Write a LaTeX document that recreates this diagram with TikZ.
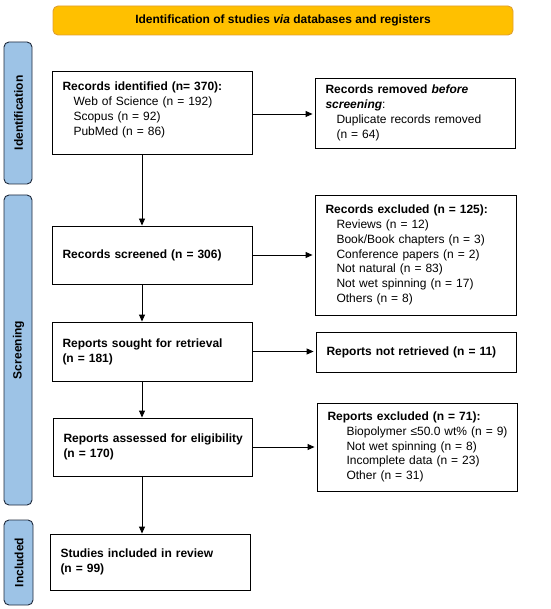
\documentclass[tikz,border=0pt]{standalone}
\usepackage{fontspec}
\setmainfont{Liberation Sans}
\usetikzlibrary{arrows.meta}

\definecolor{headorange}{HTML}{FFC000}
\definecolor{headline}{HTML}{E0A030}
\definecolor{sideblue}{HTML}{9DC3E6}
\definecolor{sideline}{HTML}{1F2A3C}

\newcommand{\sub}{\hspace*{11pt}}
\newcommand{\subb}{\hspace*{19pt}}

\begin{document}
\begin{tikzpicture}[x=1pt,y=-1pt,
    box/.style={draw,line width=0.9pt,inner xsep=10.5pt,inner ysep=0pt,
      align=left,font=\fontsize{12}{14.8}\selectfont},
    sidebar/.style={draw=sideline,fill=sideblue,line width=0.9pt,rounded corners=5pt},
    sidelabel/.style={rotate=90,font=\fontsize{12}{14}\selectfont\bfseries},
    flow/.style={-{Triangle[length=7pt,width=6pt]},line width=0.9pt}]

    \useasboundingbox (0,0) rectangle (550,609);

    % header
    \node[draw=headline,fill=headorange,line width=0.9pt,rounded corners=5pt,
      minimum width=460pt,minimum height=29pt,font=\fontsize{12}{14}\selectfont\bfseries]
      (head) at (283,20.5) {Identification of studies \textit{via} databases and registers};

    % side bars
    \draw[sidebar] (4,42) rectangle (32,184);
    \node[sidelabel] (lid) at (18.5,113) {Identification};
    \draw[sidebar] (4,195) rectangle (32,505);
    \node[sidelabel] (lscr) at (18.5,350) {Screening};
    \draw[sidebar] (4,520) rectangle (33,605);
    \node[sidelabel] (linc) at (19,562.5) {Included};

    % main column
    \node[box,text width=179pt,minimum height=83pt] (ident) at (152,112.5)
      {\textbf{Records identified (n= 370):}\\ \sub Web of Science (n = 192)\\ \sub Scopus (n = 92)\\ \sub PubMed (n = 86)\\[-7pt]\mbox{}};
    \node[box,text width=179pt,minimum height=58pt] (screened) at (152,255)
      {\textbf{Records screened (n = 306)}};
    \node[box,text width=179pt,minimum height=59pt] (sought) at (152,351.5)
      {\textbf{Reports sought for retrieval}\\ \textbf{(n = 181)}};
    \node[box,text width=178pt,minimum height=58pt] (assessed) at (152.5,447)
      {\mbox{\textbf{Reports assessed for eligibility}}\\ \textbf{(n = 170)}};
    \node[box,text width=179pt,minimum height=56pt] (included) at (150,562)
      {\textbf{Studies included in review}\\ \textbf{(n = 99)}};

    % right column
    \node[box,text width=179pt,minimum height=70pt] (removed) at (415,113)
      {\textbf{Records removed \textit{before}}\\ \textbf{\textit{screening}}:\\ \sub Duplicate records removed\\ \sub (n = 64)};
    \node[box,text width=180pt,minimum height=120pt] (excluded) at (415.5,255)
      {\textbf{Records excluded (n = 125):}\\ \sub Reviews (n = 12)\\ \sub Book/Book chapters (n = 3)\\ \sub Conference papers (n = 2)\\ \sub Not natural (n = 83)\\ \sub Not wet spinning (n = 17)\\ \sub Others (n = 8)};
    \node[box,text width=179pt,minimum height=40pt] (notret) at (416,352)
      {\textbf{Reports not retrieved (n = 11)}};
    \node[box,text width=179pt,minimum height=88pt] (repexcl) at (417,447)
      {\textbf{Reports excluded (n = 71):}\\ \subb\mbox{Biopolymer ≤50.0 wt\% (n = 9)}\\ \subb Not wet spinning (n = 8)\\ \subb Incomplete data (n = 23)\\ \subb Other (n = 31)};

    % arrows
    \coordinate (axis) at (142,0);
    \draw[flow] (ident.south -| axis) -- (screened.north -| axis);
    \draw[flow] (screened.south -| axis) -- (sought.north -| axis);
    \draw[flow] (sought.south -| axis) -- (assessed.north -| axis);
    \draw[flow] (assessed.south -| axis) -- (included.north -| axis);

    \draw[flow,shorten >=2pt] (ident.east |- 0,114) -- (removed.west |- 0,114);
    \draw[flow,shorten >=2pt] (screened.east) -- (screened.east -| excluded.west);
    \draw[flow,shorten >=2pt] (sought.east) -- (sought.east -| notret.west);
    \draw[flow,shorten >=2pt] (assessed.east) -- (assessed.east -| repexcl.west);

\end{tikzpicture}
\end{document}
